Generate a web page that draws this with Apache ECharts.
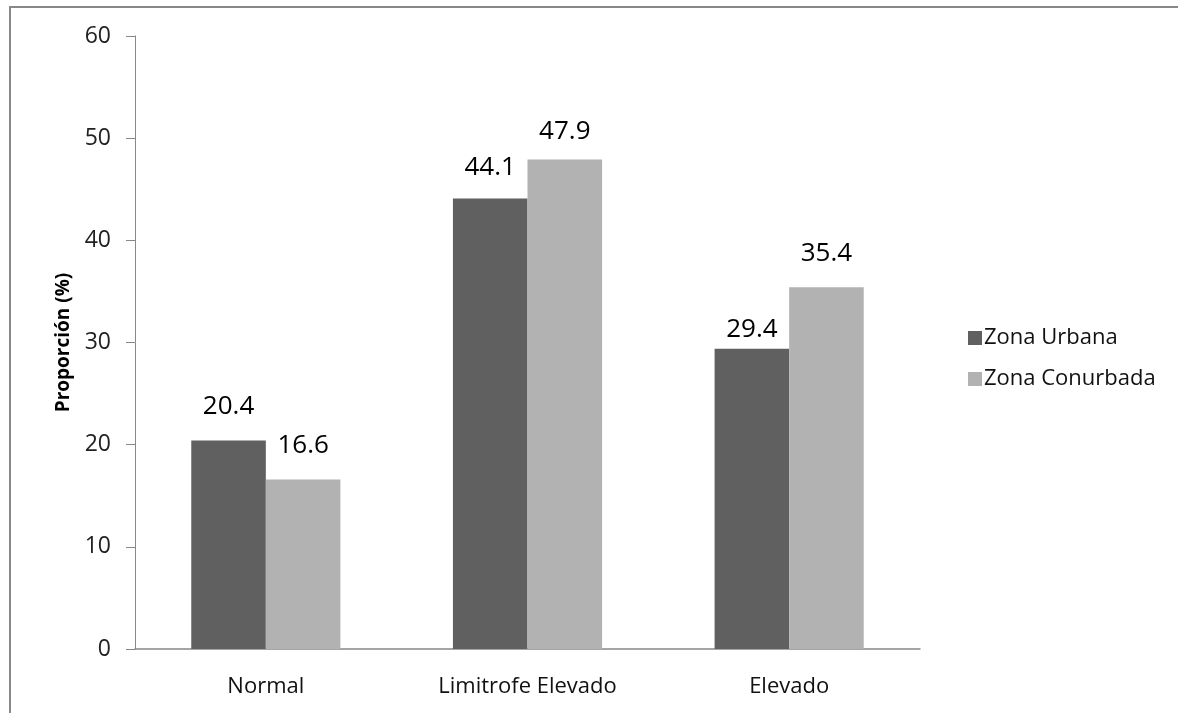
<!DOCTYPE html>
<html>
<head>
<meta charset="utf-8">
<script src="https://cdn.jsdelivr.net/npm/echarts@6/dist/echarts.min.js"></script>
<style>
  html, body { margin: 0; padding: 0; background: #ffffff; }
  #chart { width: 1178px; height: 713px; }
</style>
</head>
<body>
<div id="chart"></div>
<script>
// Categories and series values
const categories = ['Normal', 'Limitrofe Elevado', 'Elevado'];
const urbana = [20.4, 44.1, 29.4];
const conurbada = [16.6, 47.9, 35.4];
const seriesNames = ['Zona Urbana', 'Zona Conurbada'];
const yTicks = { min: 0, max: 60, interval: 10 };

// Vertical offset of each value label above its bar (px)
const liftUrbana = [21, 18, 6];
const liftConurbada = [21, 15, 21];

const FONT = '"Open Sans", Lato, sans-serif';
const AXIS_GREY = '#888888';

function withLabels(values, lifts) {
  return values.map((v, i) => ({
    value: v,
    label: { distance: lifts[i] }
  }));
}

const chart = echarts.init(document.getElementById('chart'), null, { renderer: 'canvas' });

chart.setOption({
  backgroundColor: '#ffffff',
  animation: false,
  grid: { left: 135, right: 258, top: 36, bottom: 64, containLabel: false },
  graphic: [
    { type: 'line', shape: { x1: 9, y1: 7, x2: 1178, y2: 7 }, style: { stroke: AXIS_GREY, lineWidth: 2 } },
    { type: 'line', shape: { x1: 10, y1: 6, x2: 10, y2: 713 }, style: { stroke: AXIS_GREY, lineWidth: 2 } }
  ],
  legend: {
    orient: 'vertical',
    left: 963,
    top: 322,
    itemWidth: 14,
    itemHeight: 14,
    itemGap: 19,
    icon: 'rect',
    textStyle: { fontFamily: FONT, fontSize: 22, color: '#111111', padding: [0, 0, 0, -3] },
    data: seriesNames
  },
  xAxis: {
    type: 'category',
    data: categories,
    axisLine: { lineStyle: { color: AXIS_GREY, width: 1.5 } },
    axisTick: { show: false },
    axisLabel: { fontFamily: FONT, fontSize: 22, color: '#111111', margin: 27 }
  },
  yAxis: {
    type: 'value',
    min: yTicks.min,
    max: yTicks.max,
    interval: yTicks.interval,
    name: 'Proporción (%)',
    nameLocation: 'middle',
    nameGap: 62,
    nameRotate: 90,
    nameTextStyle: { fontFamily: FONT, fontSize: 19, fontWeight: 'bold', color: '#000000' },
    axisLine: { show: true, lineStyle: { color: AXIS_GREY, width: 1 } },
    axisTick: { show: true, length: 9, lineStyle: { color: AXIS_GREY } },
    splitLine: { show: false },
    axisLabel: { fontFamily: FONT, fontSize: 23, color: '#222222', margin: 24 }
  },
  series: [
    {
      name: seriesNames[0],
      type: 'bar',
      data: withLabels(urbana, liftUrbana),
      barGap: '0%',
      barCategoryGap: '43%',
      itemStyle: { color: '#606060' },
      label: { show: true, position: 'top', fontFamily: FONT, fontSize: 26, color: '#000000' }
    },
    {
      name: seriesNames[1],
      type: 'bar',
      data: withLabels(conurbada, liftConurbada),
      barGap: '0%',
      barCategoryGap: '43%',
      itemStyle: { color: '#b2b2b2' },
      label: { show: true, position: 'top', fontFamily: FONT, fontSize: 26, color: '#000000' }
    }
  ]
});
</script>
</body>
</html>
